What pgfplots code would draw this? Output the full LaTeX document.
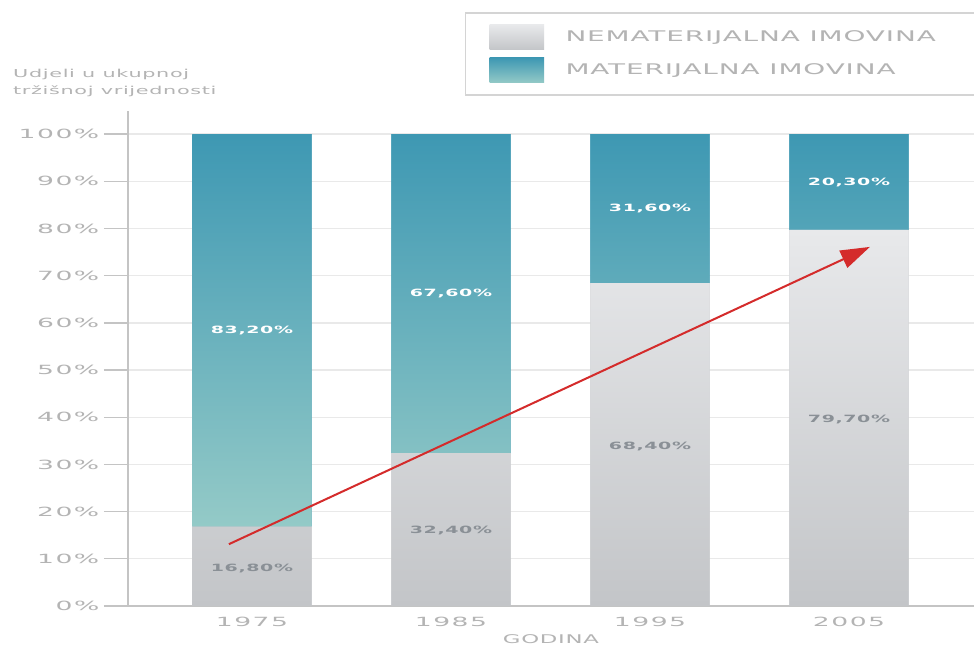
\documentclass[border=0pt]{standalone}
\usepackage{fontspec}
\setmainfont{DejaVu Sans}[FakeStretch=1.9,LetterSpace=6]
\newfontfamily\tickfont{DejaVu Sans}[FakeStretch=2.1,LetterSpace=12]
\usepackage{pgfplots}
\pgfplotsset{compat=1.18}
\usetikzlibrary{arrows.meta}
\definecolor{tealtop}{HTML}{3E98B3}
\definecolor{tealbot}{HTML}{94CAC7}
\definecolor{greytop}{HTML}{E8E9EB}
\definecolor{greybot}{HTML}{C3C5C8}
\definecolor{txt}{HTML}{B4B4B4}
\definecolor{axisgray}{HTML}{C4C4C4}
\definecolor{gridgray}{HTML}{E9E9E9}
\definecolor{legborder}{HTML}{D4D4D4}
\definecolor{arrowred}{HTML}{D42B2B}
\definecolor{lbl}{HTML}{8A9096}
\tikzset{wl/.style={text=white, font=\bfseries\fontsize{7.5}{8}\selectfont},
         gl/.style={text=lbl, font=\bfseries\fontsize{7.5}{8}\selectfont}}
\begin{document}
\begin{tikzpicture}
\begin{axis}[
  scale only axis, width=634.5pt, height=371.25pt,
  anchor=south west, at={(96pt,30.75pt)},
  ybar stacked, bar width=0.6,
  xmin=-0.623, xmax=3.628, ymin=0, ymax=104.9,
  axis lines*=left,
  axis line style={axisgray, line width=1.5pt},
  xtick={0,1,2,3}, xticklabels={1975,1985,1995,2005},
  minor xtick={-0.623,0.5,1.5,2.5,3.5},
  ytick={0,10,...,100},
  yticklabels={0\%,10\%,20\%,30\%,40\%,50\%,60\%,70\%,80\%,90\%,100\%},
  tick align=outside, major tick length=18pt, minor tick length=10pt,
  xtick style={draw=none},
  minor tick style={axisgray, line width=1.5pt},
  ytick style={axisgray, line width=1pt},
  ymajorgrids, grid style={gridgray, line width=1pt},
  tick label style={text=txt, font=\tickfont\fontsize{9.5}{10}\selectfont},
  xticklabel style={yshift=13pt},
  ylabel={Udjeli u ukupnoj\\tržišnoj vrijednosti},
  ylabel style={rotate=-90, at={(axis description cs:-0.136,1.085)}, anchor=north west, align=left, inner sep=0pt, text=txt, font=\fontsize{8.2}{13}\selectfont},
  xlabel={GODINA},
  xlabel style={at={(axis description cs:0.5,-0.057)}, anchor=north, inner sep=0pt, text=txt, font=\fontsize{9}{10}\selectfont},
  legend style={at={(axis description cs:0.398,1.2)}, anchor=north west, draw=legborder, line width=1.2pt,
    font=\fontsize{11}{13}\selectfont, text=txt, inner xsep=18pt, inner ysep=9pt, row sep=6pt,
    /tikz/every even column/.append style={column sep=10pt}},
  legend cell align=left,
  legend image code/.code={\path[#1,draw=none] (0pt,-9.4pt) rectangle (41pt,9.4pt);},
]
\addplot[draw=none, fill=greybot, top color=greytop, bottom color=greybot]
  coordinates {(0,16.8) (1,32.4) (2,68.4) (3,79.7)};
\addlegendentry{\hspace*{14pt}NEMATERIJALNA IMOVINA\hspace*{40pt}}
\addplot[draw=none, fill=tealtop, top color=tealtop, bottom color=tealbot]
  coordinates {(0,83.2) (1,67.6) (2,31.6) (3,20.3)};
\addlegendentry{\hspace*{14pt}MATERIJALNA IMOVINA}
\coordinate (w1) at (axis cs:0,58.4);
\coordinate (w2) at (axis cs:1,66.2);
\coordinate (w3) at (axis cs:2,84.2);
\coordinate (w4) at (axis cs:3,89.85);
\coordinate (g1) at (axis cs:0,8.0);
\coordinate (g2) at (axis cs:1,16.0);
\coordinate (g3) at (axis cs:2,33.9);
\coordinate (g4) at (axis cs:3,39.5);
\coordinate (as) at (axis cs:-0.116,13.1);
\coordinate (ae) at (axis cs:3.105,76.1);
\end{axis}
\node[wl] at (w1) {83,20\%};
\node[wl] at (w2) {67,60\%};
\node[wl] at (w3) {31,60\%};
\node[wl] at (w4) {20,30\%};
\node[gl] at (g1) {16,80\%};
\node[gl] at (g2) {32,40\%};
\node[gl] at (g3) {68,40\%};
\node[gl] at (g4) {79,70\%};
\draw[arrowred, line width=1.5pt, -{Triangle[length=22pt,width=14pt]}] (as) -- (ae);
\pgfresetboundingbox
\useasboundingbox (0,0) rectangle (730.5pt,485.25pt);
\end{tikzpicture}
\end{document}
